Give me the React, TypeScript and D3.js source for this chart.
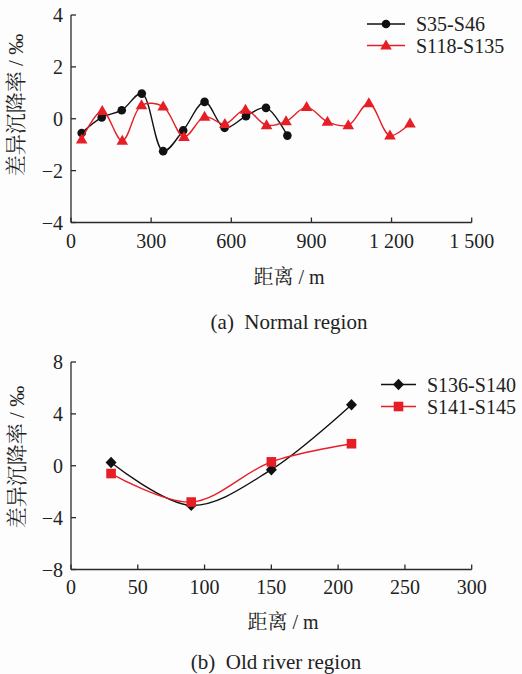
import React from "react";
import * as d3 from "d3";

// Top chart (a) Normal region
const aBlackX = [40, 115, 190, 265, 345, 420, 500, 575, 655, 730, 810];
const aBlackY = [-0.55, 0.05, 0.33, 0.97, -1.25, -0.45, 0.65, -0.35, 0.1, 0.42, -0.65];
const aRedX = [40, 117, 192, 264, 345, 423, 500, 576, 653, 732, 805, 882, 960, 1038, 1115, 1194, 1269];
const aRedY = [-0.8, 0.3, -0.85, 0.52, 0.47, -0.7, 0.08, -0.2, 0.35, -0.25, -0.1, 0.45, -0.12, -0.25, 0.6, -0.65, -0.18];
const aXTicks = [0, 300, 600, 900, 1200, 1500];
const aXTickLabels = ["0", "300", "600", "900", "1 200", "1 500"];
const aYTicks = [-4, -2, 0, 2, 4];
const aSeriesNames = ["S35-S46", "S118-S135"];

// Bottom chart (b) Old river region
const bBlackX = [30, 90, 150, 210];
const bBlackY = [0.25, -3.05, -0.3, 4.7];
const bRedX = [30, 90, 150, 210];
const bRedY = [-0.6, -2.8, 0.3, 1.7];
const bXTicks = [0, 50, 100, 150, 200, 250, 300];
const bYTicks = [-8, -4, 0, 4, 8];
const bSeriesNames = ["S136-S140", "S141-S145"];

const RED = "#e61e26";
const BLACK = "#111111";
const AXIS = "#2a2a2a";
const FONT = "'Liberation Serif', 'Times New Roman', serif";
const CJK = "'Liberation Serif', 'Noto Serif CJK SC', 'Noto Sans CJK SC', serif";

const fmtY = (v: number) => (v < 0 ? "\u2212" + Math.abs(v) : String(v));

type Marker = "circle" | "triangle" | "diamond" | "square";

function MarkerShape({ type, x, y, color }: { type: Marker; x: number; y: number; color: string }) {
  if (type === "circle") return <circle cx={x} cy={y} r={4.3} fill={color} />;
  if (type === "triangle")
    return <path d={`M${x},${y - 6} L${x + 5.8},${y + 4} L${x - 5.8},${y + 4} Z`} fill={color} />;
  if (type === "diamond")
    return <path d={`M${x},${y - 5.8} L${x + 5.5},${y} L${x},${y + 5.8} L${x - 5.5},${y} Z`} fill={color} />;
  return <rect x={x - 4.8} y={y - 4.8} width={9.6} height={9.6} fill={color} />;
}

interface PanelProps {
  x0: number; x1: number; yTop: number; yBot: number;
  xDomain: [number, number]; yDomain: [number, number];
  xTicks: number[]; xTickLabels: string[]; yTicks: number[];
  series: { xs: number[]; ys: number[]; color: string; marker: Marker; name: string }[];
  legendX1: number; legendX2: number; legendY: number[]; legendTextX: number;
  yLabelX: number; yLabelY: number; xLabelX: number; xLabelY: number;
  caption: string; captionX: number; captionY: number; tickLabelY: number;
}

function Panel(p: PanelProps) {
  const x = d3.scaleLinear().domain(p.xDomain).range([p.x0, p.x1]);
  const y = d3.scaleLinear().domain(p.yDomain).range([p.yBot, p.yTop]);
  const line = d3
    .line<[number, number]>()
    .x((d) => x(d[0]))
    .y((d) => y(d[1]))
    .curve(d3.curveCatmullRom.alpha(0.5));
  return (
    <g>
      {p.series.map((s, i) => {
        const pts: [number, number][] = s.xs.map((v, j) => [v, s.ys[j]]);
        return (
          <g key={i}>
            <path d={line(pts) || ""} fill="none" stroke={s.color} strokeWidth={1.4} />
            {pts.map((d, j) => (
              <MarkerShape key={j} type={s.marker} x={x(d[0])} y={y(d[1])} color={s.color} />
            ))}
          </g>
        );
      })}
      {/* axes */}
      <line x1={p.x0} x2={p.x0} y1={p.yTop} y2={p.yBot} stroke={AXIS} strokeWidth={1.3} />
      <line x1={p.x0} x2={p.x1} y1={p.yBot} y2={p.yBot} stroke={AXIS} strokeWidth={1.3} />
      {p.yTicks.map((t) => (
        <g key={"y" + t}>
          <line x1={p.x0} x2={p.x0 + 5} y1={y(t)} y2={y(t)} stroke={AXIS} strokeWidth={1.3} />
          <text x={p.x0 - 8} y={y(t)} dy="0.35em" textAnchor="end" fontSize={20} fontFamily={FONT} fill="#222">
            {fmtY(t)}
          </text>
        </g>
      ))}
      {p.xTicks.map((t, i) => (
        <g key={"x" + t}>
          <line x1={x(t)} x2={x(t)} y1={p.yBot} y2={p.yBot - 5} stroke={AXIS} strokeWidth={1.3} />
          <text x={x(t)} y={p.tickLabelY} dy="0.35em" textAnchor="middle" fontSize={20} fontFamily={FONT} fill="#222">
            {p.xTickLabels[i]}
          </text>
        </g>
      ))}
      {/* legend */}
      {p.series.map((s, i) => (
        <g key={"l" + i}>
          <line x1={p.legendX1} x2={p.legendX2} y1={p.legendY[i]} y2={p.legendY[i]} stroke={s.color} strokeWidth={1.4} />
          <MarkerShape type={s.marker} x={(p.legendX1 + p.legendX2) / 2} y={p.legendY[i]} color={s.color} />
          <text x={p.legendTextX} y={p.legendY[i]} dy="0.35em" fontSize={20} fontFamily={FONT} fill="#222">
            {s.name}
          </text>
        </g>
      ))}
      {/* labels */}
      <text
        transform={`translate(${p.yLabelX},${p.yLabelY}) rotate(-90)`}
        textAnchor="middle"
        dy="0.35em"
        fontSize={21}
        fontFamily={CJK}
        fill="#222"
      >
        差异沉降率 / ‰
      </text>
      <text x={p.xLabelX} y={p.xLabelY} dy="0.35em" textAnchor="middle" fontSize={20} fontFamily={CJK} fill="#222">
        距离 / m
      </text>
      <text x={p.captionX} y={p.captionY} dy="0.35em" textAnchor="middle" fontSize={21} fontFamily={FONT} fill="#222" xmlSpace="preserve" style={{ whiteSpace: "pre" }}>
        {p.caption}
      </text>
    </g>
  );
}

export default function App() {
  return (
    <div style={{ position: "absolute", left: 0, top: 0 }}>
      <svg width={522} height={674} style={{ display: "block", background: "#fdfdfd" }}>
        <Panel
          x0={71} x1={471.7} yTop={15} yBot={222.5}
          xDomain={[0, 1500]} yDomain={[-4, 4]}
          xTicks={aXTicks} xTickLabels={aXTickLabels} yTicks={aYTicks}
          series={[
            { xs: aBlackX, ys: aBlackY, color: BLACK, marker: "circle", name: aSeriesNames[0] },
            { xs: aRedX, ys: aRedY, color: RED, marker: "triangle", name: aSeriesNames[1] },
          ]}
          legendX1={367} legendX2={405} legendY={[24, 45.5]} legendTextX={416}
          yLabelX={16} yLabelY={105} xLabelX={289} xLabelY={277}
          caption={"(a)  Normal region"} captionX={289} captionY={321.5} tickLabelY={240.5}
        />
        <Panel
          x0={71} x1={471.7} yTop={362} yBot={569.5}
          xDomain={[0, 300]} yDomain={[-8, 8]}
          xTicks={bXTicks} xTickLabels={bXTicks.map(String)} yTicks={bYTicks}
          series={[
            { xs: bBlackX, ys: bBlackY, color: BLACK, marker: "diamond", name: bSeriesNames[0] },
            { xs: bRedX, ys: bRedY, color: RED, marker: "square", name: bSeriesNames[1] },
          ]}
          legendX1={381} legendX2={416} legendY={[384.5, 406.5]} legendTextX={427}
          yLabelX={17} yLabelY={457} xLabelX={283} xLabelY={621.5}
          caption={"(b)  Old river region"} captionX={276} captionY={661.5} tickLabelY={586.5}
        />
      </svg>
    </div>
  );
}
